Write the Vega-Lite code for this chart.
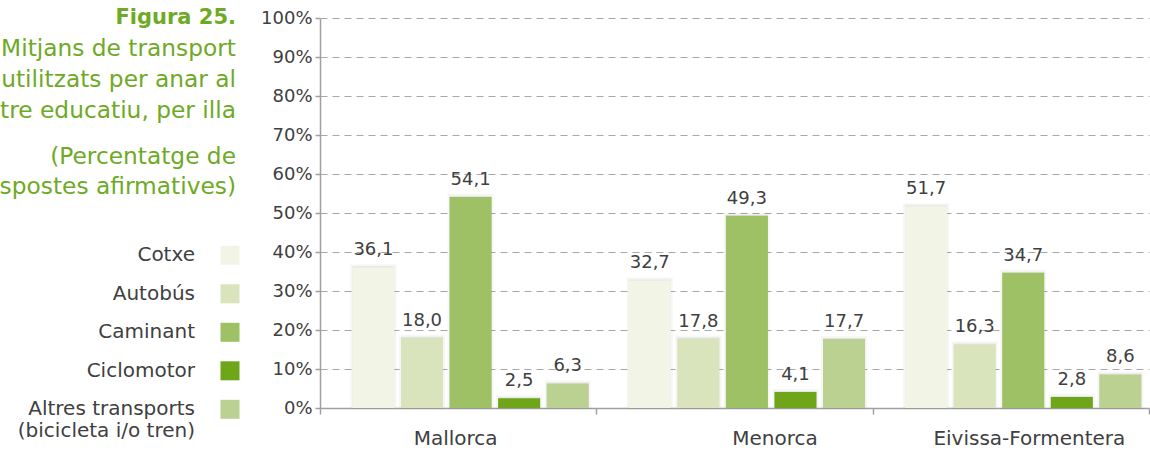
{
  "$schema": "https://vega.github.io/schema/vega-lite/v6.json",
  "width": 829,
  "height": 390,
  "autosize": {"type": "none"},
  "padding": {"left": 320, "top": 18, "right": 1, "bottom": 44},
  "config": {
    "font": "DejaVu Sans",
    "view": {"stroke": null},
    "locale": {"number": {"decimal": ",", "thousands": ".", "grouping": [3], "currency": ["", " €"]}}
  },
  "title": {
    "text": "Figura 25.",
    "subtitle": ["Mitjans de transport", "utilitzats per anar al", "centre educatiu, per illa"],
    "orient": "top",
    "anchor": "start",
    "frame": "group",
    "align": "right",
    "dx": -84,
    "dy": 113,
    "offset": 0,
    "font": "DejaVu Sans",
    "fontSize": 21,
    "fontWeight": "bold",
    "color": "#6eaa25",
    "subtitleFont": "DejaVu Sans",
    "subtitleFontSize": 23.3,
    "subtitleColor": "#6eaa25",
    "subtitleLineHeight": 31,
    "subtitlePadding": 10,
    "limit": 600
  },
  "data": {
    "values": [
      {"illa": "Mallorca", "mitja": "Cotxe", "valor": 36.1},
      {"illa": "Mallorca", "mitja": "Autobús", "valor": 18.0},
      {"illa": "Mallorca", "mitja": "Caminant", "valor": 54.1},
      {"illa": "Mallorca", "mitja": "Ciclomotor", "valor": 2.5},
      {"illa": "Mallorca", "mitja": "Altres transports", "valor": 6.3},
      {"illa": "Menorca", "mitja": "Cotxe", "valor": 32.7},
      {"illa": "Menorca", "mitja": "Autobús", "valor": 17.8},
      {"illa": "Menorca", "mitja": "Caminant", "valor": 49.3},
      {"illa": "Menorca", "mitja": "Ciclomotor", "valor": 4.1},
      {"illa": "Menorca", "mitja": "Altres transports", "valor": 17.7},
      {"illa": "Eivissa-Formentera", "mitja": "Cotxe", "valor": 51.7},
      {"illa": "Eivissa-Formentera", "mitja": "Autobús", "valor": 16.3},
      {"illa": "Eivissa-Formentera", "mitja": "Caminant", "valor": 34.7},
      {"illa": "Eivissa-Formentera", "mitja": "Ciclomotor", "valor": 2.8},
      {"illa": "Eivissa-Formentera", "mitja": "Altres transports", "valor": 8.6}
    ]
  },
  "encoding": {
    "x": {
      "field": "illa",
      "type": "nominal",
      "sort": ["Mallorca", "Menorca", "Eivissa-Formentera"],
      "scale": {"paddingInner": 0, "paddingOuter": 0},
      "axis": {
        "title": null,
        "labelAngle": 0,
        "labelFontSize": 20,
        "labelColor": "#404040",
        "labelPadding": 14,
        "labelLimit": 400,
        "labelOffset": {"condition": [{"test": "datum.value == 'Menorca'", "value": 40}, {"test": "datum.value == 'Eivissa-Formentera'", "value": 18}], "value": -3},
        "domainColor": "#a0a0a0",
        "domainWidth": 1.5,
        "tickBand": "extent",
        "tickColor": "#a0a0a0",
        "tickWidth": 1.5,
        "tickSize": 6,
        "grid": false
      }
    },
    "xOffset": {
      "field": "mitja",
      "type": "nominal",
      "sort": ["Cotxe", "Autobús", "Caminant", "Ciclomotor", "Altres transports"],
      "scale": {"paddingInner": 0.134, "paddingOuter": 0.412, "align": 0.81}
    },
    "y": {
      "field": "valor",
      "type": "quantitative",
      "scale": {"domain": [0, 100], "nice": false},
      "axis": {
        "title": null,
        "values": [0, 10, 20, 30, 40, 50, 60, 70, 80, 90, 100],
        "labelExpr": "datum.value + '%'",
        "labelFontSize": 18,
        "labelColor": "#404040",
        "labelPadding": 3,
        "tickSize": 5,
        "tickColor": "#a0a0a0",
        "tickWidth": 1.5,
        "domainColor": "#a0a0a0",
        "domainWidth": 1.5,
        "gridDash": [7, 5],
        "gridColor": "#a8a8a8",
        "gridWidth": 1.2
      }
    }
  },
  "layer": [
    {
      "mark": {"type": "bar", "fill": "#000000", "fillOpacity": 0.07, "stroke": "#000000", "strokeOpacity": 0.035, "strokeWidth": 4, "xOffset": 2, "yOffset": -1}
    },
    {
      "mark": {"type": "bar"},
      "encoding": {
        "color": {
          "field": "mitja",
          "type": "nominal",
          "scale": {
            "domain": ["Cotxe", "Autobús", "Caminant", "Ciclomotor", "Altres transports"],
            "range": ["#f2f4e6", "#d9e4bd", "#9dc164", "#6ea519", "#bbd191"]
          },
          "legend": {
            "orient": "none",
            "legendX": -344,
            "legendY": 128,
            "padding": 0,
            "title": ["(Percentatge de", "respostes afirmatives)"],
            "titleFont": "DejaVu Sans",
            "titleFontSize": 23.3,
            "titleFontWeight": "normal",
            "titleColor": "#6eaa25",
            "titleAlign": "right",
            "titleAnchor": "end",
            "titleLineHeight": 30,
            "titlePadding": 46,
            "titleLimit": 500,
            "symbolType": "square",
            "symbolSize": 361,
            "symbolStrokeWidth": 0,
            "symbolOpacity": 1,
            "labelAlign": "right",
            "labelOffset": -45,
            "labelFontSize": 20,
            "labelColor": "#404040",
            "labelLimit": 400,
            "rowPadding": 18.5,
            "labelExpr": "datum.label == 'Altres transports' ? ['Altres transports', '(bicicleta i/o tren)'] : datum.label",
            "encode": {"title": {"update": {"dx": {"value": -4}}}}
          }
        }
      }
    },
    {
      "mark": {"type": "text", "baseline": "alphabetic", "dy": -12, "fontSize": 18, "color": "#404040"},
      "encoding": {
        "text": {"field": "valor", "type": "quantitative", "format": ".1f"}
      }
    }
  ]
}
